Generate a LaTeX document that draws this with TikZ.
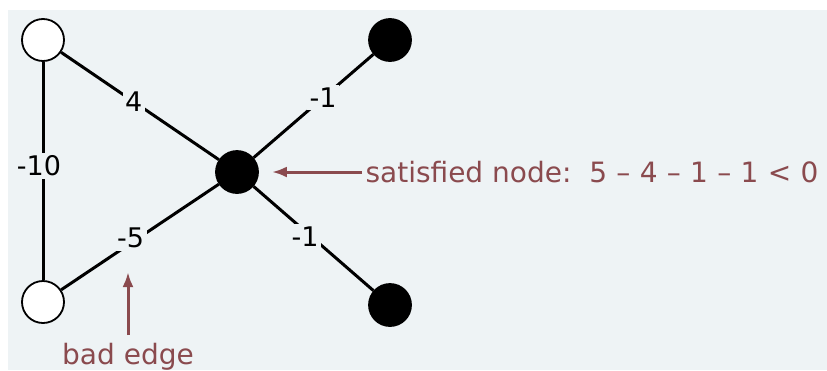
\documentclass[tikz,border=0pt]{standalone}
\usepackage{fontspec}
\setmainfont{DejaVu Sans}
\usepackage{xcolor}
\usetikzlibrary{positioning,arrows.meta}
\definecolor{Fondo}{RGB}{238, 243, 245}
\definecolor{Granate}{RGB}{138, 74, 78}

\begin{document}
\begin{tikzpicture}[x=1pt,y=-1pt,
	vertice/.style={circle,draw=black,line width=1.8pt,minimum size=42pt,inner sep=0pt},
	blanco/.style={vertice,fill=white},
	negro/.style={vertice,fill=black},
	peso/.style={fill=Fondo,inner sep=2.5pt,font=\fontsize{27}{31}\selectfont},
	arista/.style={line width=3pt},
	flecha/.style={-{Latex[length=15pt,width=11pt]},draw=Granate,line width=3pt},
	nota/.style={text=Granate,font=\fontsize{28}{32}\selectfont}]
	% Dibuja el fondo
	\useasboundingbox (0,0) rectangle (827,370);
	\fill[Fondo] (8,10) rectangle (827,370);
	% Dibuja los vertices
	\node[blanco] (arribaIzq) at (43,40) {};
	\node[blanco] (abajoIzq) at (43,302) {};
	\node[negro] (centro) at (237,172) {};
	\node[negro] (arribaDer) at (390,40) {};
	\node[negro] (abajoDer) at (390,305) {};
	% Dibuja las aristas con sus pesos
	\draw[arista] (arribaIzq) -- node[peso,xshift=-4pt,yshift=5pt] {-10} (abajoIzq);
	\draw[arista] (arribaIzq) -- node[peso,pos=0.46] {4} (centro);
	\draw[arista] (arribaDer) -- node[peso,pos=0.42] {-1} (centro);
	\draw[arista] (abajoIzq) -- node[peso,pos=0.44,yshift=5pt] {-5} (centro);
	\draw[arista] (abajoDer) -- node[peso,pos=0.57,yshift=-5pt] {-1} (centro);
	% Agrega las notas
	\node[nota,anchor=west] (satisfecho) at (362,172) {satisfied node:\ \ 5\,\,–\,\,4\,\,–\,\,1\,\,–\,\,1\,\,<\,\,0};
	\node[nota,anchor=base] (mala) at (128,364) {bad edge};
	\draw[flecha,shorten >=13pt] (satisfecho.west) -- (centro.east);
	\draw[flecha,shorten <=4pt] (mala.north) -- (128,272);
\end{tikzpicture}
\end{document}
